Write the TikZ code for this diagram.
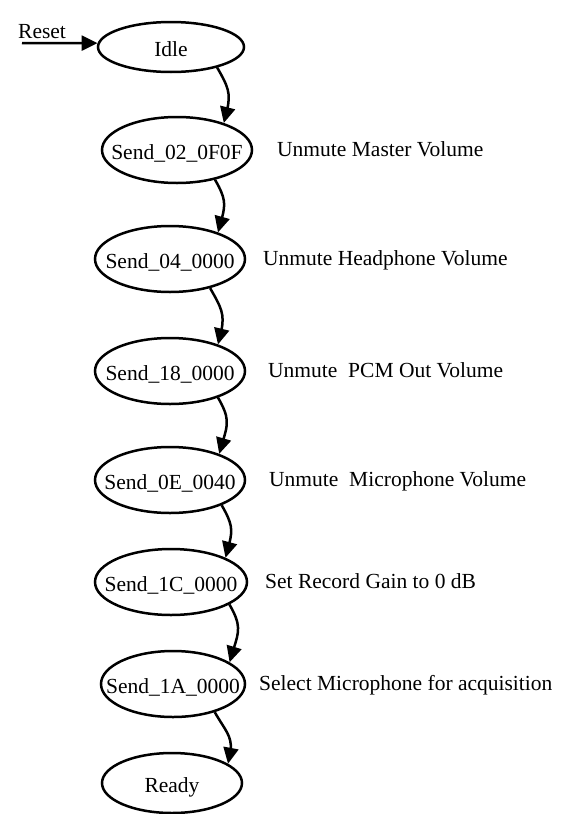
\documentclass[tikz,border=0pt]{standalone}
\usepackage{fontspec}
\setmainfont{Liberation Serif}
\usetikzlibrary{shapes.geometric,arrows.meta,bending}
\begin{document}
\begin{tikzpicture}[x=1pt,y=1pt,
  st/.style={ellipse,draw,line width=2.5pt,inner sep=0pt,minimum width=150pt,minimum height=66pt,text height=18pt,text depth=0pt,font=\fontsize{21.5}{26}\selectfont},
  lbl/.style={anchor=base west,inner sep=0pt,font=\fontsize{21.5}{26}\selectfont},
  tr/.style={line width=2.5pt,-{Triangle[length=16pt,width=15pt]}},
  curvy/.style={out=-60,in=75,looseness=1.3},
]
\useasboundingbox (0,0) rectangle (564,-814);
\node[st,minimum width=146pt,minimum height=50pt] (idle) at (171,-47) {\makebox[0pt]{Idle}};
\node[st] (s02) at (177,-150) {\makebox[0pt]{Send\_02\_0F0F}};
\node[st] (s04) at (170,-259) {\makebox[0pt]{Send\_04\_0000}};
\node[st] (s18) at (170,-371) {\makebox[0pt]{Send\_18\_0000}};
\node[st] (s0e) at (170,-480) {\makebox[0pt]{Send\_0E\_0040}};
\node[st,minimum width=152pt] (s1c) at (171,-582) {\makebox[0pt]{Send\_1C\_0000}};
\node[st,minimum width=144pt] (s1a) at (173,-684) {\makebox[0pt]{Send\_1A\_0000}};
\node[st,minimum width=140pt,minimum height=60pt] (ready) at (172,-783) {\makebox[0pt]{Ready}};

\node[lbl] (l1) at (277,-156) {Unmute Master Volume};
\node[lbl] (l2) at (263,-265) {Unmute Headphone Volume};
\node[lbl] (l3) at (268,-377) {Unmute\ \ PCM Out Volume};
\node[lbl] (l4) at (269,-486) {Unmute\ \ Microphone Volume};
\node[lbl] (l5) at (265,-588) {Set Record Gain to 0 dB};
\node[lbl] (l6) at (259,-690) {Select Microphone for acquisition};

\node[lbl] (rtext) at (18,-38) {Reset};
\coordinate (rst) at (22,-43);
\draw[tr] (rst) -- (idle.177);

\draw[tr] (idle.-24) to[curvy] (s02.30);
\draw[tr] (s02.-38) to[curvy] (s04.29);
\draw[tr] (s04.-36) to[curvy] (s18.29);
\draw[tr] (s18.-29) to[curvy] (s0e.28);
\draw[tr] (s0e.-26) to[curvy] (s1c.24);
\draw[tr] (s1c.-21) to[curvy] (s1a.21);
\draw[tr] (s1a.-34) to[curvy] (ready.19);
\end{tikzpicture}
\end{document}
